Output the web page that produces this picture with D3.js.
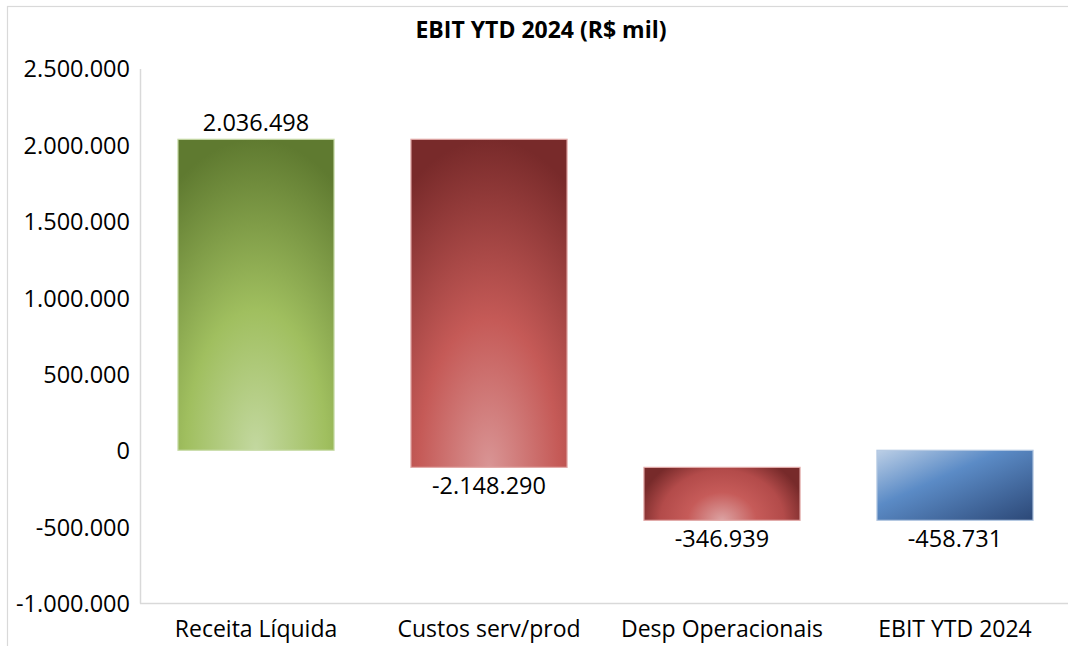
<!DOCTYPE html>
<html><head><meta charset="utf-8">
<script src="https://cdn.jsdelivr.net/npm/d3@7"></script>
<style>
html,body{margin:0;padding:0;background:#fff;}
svg{display:block;}
text{font-family:"Open Sans",sans-serif;fill:#000;}
</style></head>
<body>
<svg id="chart" width="1068" height="646"></svg>
<script>
const categories = ["Receita Líquida", "Custos serv/prod", "Desp Operacionais", "EBIT YTD 2024"];
const values = [2036498, -2148290, -346939, -458731];
const kinds = ["increase", "decrease", "decrease", "total"];
const yTicks = [-1000000, -500000, 0, 500000, 1000000, 1500000, 2000000, 2500000];
const title = "EBIT YTD 2024 (R$ mil)";

const locale = d3.formatLocale({decimal: ",", thousands: ".", grouping: [3], currency: ["R$", ""], minus: "-"});
const fmt = locale.format(",d");

// waterfall table
let running = 0;
const rows = categories.map((c, i) => {
  let start, end;
  if (kinds[i] === "total") { start = 0; end = values[i]; running = values[i]; }
  else { start = running; end = running + values[i]; running = end; }
  return {cat: c, value: values[i], kind: kinds[i], start, end};
});

const svg = d3.select("#chart");
const W = 1068, H = 646;

// outer chart border
svg.append("rect").attr("x", 7.5).attr("y", 6.5).attr("width", W + 20).attr("height", H + 20)
  .attr("fill", "#fff").attr("stroke", "#d9d9d9").attr("stroke-width", 1.2);

const y = d3.scaleLinear().domain([-1000000, 2500000]).range([603, 68.5]);
const x = d3.scaleBand().domain(categories).range([139.5, 1071.5]).paddingInner(0.33).paddingOuter(0.165);

// gradients
const defs = svg.append("defs");
function radial(id, stops, transform) {
  const g = defs.append("radialGradient").attr("id", id)
    .attr("cx", "50%").attr("cy", "100%").attr("fx", "50%").attr("fy", "100%");
  if (transform) g.attr("r", "55%").attr("gradientTransform", transform);
  else g.attr("r", "100%");
  stops.forEach(s => g.append("stop").attr("offset", s[0]).attr("stop-color", s[1]));
}
radial("gGreen", [[0, "#c3d8a0"], [0.45, "#a0bf5f"], [1, "#5f7a30"]]);
radial("gRed", [[0, "#d99595"], [0.45, "#c55a57"], [1, "#782a2a"]]);
radial("gRed2", [[0, "#dca3a3"], [0.4, "#c65b59"], [0.72, "#b34b4a"], [1, "#772a2a"]],
  "translate(0.5,1) scale(1,2.4) translate(-0.5,-1)");
const lin = defs.append("linearGradient").attr("id", "gBlue").attr("x1", "0%").attr("y1", "0%").attr("x2", "100%").attr("y2", "100%");
[[0, "#bccfe6"], [0.4, "#5b8bc6"], [1, "#2c4877"]].forEach(s => lin.append("stop").attr("offset", s[0]).attr("stop-color", s[1]));

const fills = ["url(#gGreen)", "url(#gRed)", "url(#gRed2)", "url(#gBlue)"];
const strokes = ["#c9dcaa", "#e2aaa9", "#e2aaa9", "#b4c8e2"];

// axes
const yAxis = svg.append("g").attr("transform", "translate(140,0)")
  .call(d3.axisLeft(y).tickValues(yTicks).tickFormat(fmt).tickSize(0).tickPadding(10));
yAxis.select(".domain").attr("stroke", "#d9d9d9").attr("stroke-width", 1.5);
yAxis.selectAll("text").attr("font-size", 23.5).attr("font-family", "Open Sans").attr("fill", "#000").attr("dy", "0.36em");

const xAxis = svg.append("g").attr("transform", "translate(0,603)")
  .call(d3.axisBottom(x).tickSize(0).tickPadding(0));
xAxis.select(".domain").attr("stroke", "#d9d9d9").attr("stroke-width", 1.5);
xAxis.selectAll("text").attr("font-size", 23).attr("font-family", "Open Sans").attr("fill", "#000").attr("y", 34).attr("dy", 0);

// bars
svg.append("g").selectAll("rect").data(rows).join("rect")
  .attr("x", d => x(d.cat))
  .attr("width", x.bandwidth())
  .attr("y", d => y(Math.max(d.start, d.end)))
  .attr("height", d => Math.abs(y(d.start) - y(d.end)))
  .attr("fill", (d, i) => fills[i])
  .attr("stroke", (d, i) => strokes[i])
  .attr("stroke-width", 1.2);

// data labels
svg.append("g").selectAll("text").data(rows).join("text")
  .attr("x", d => x(d.cat) + x.bandwidth() / 2)
  .attr("y", d => d.value >= 0 ? y(Math.max(d.start, d.end)) - 8 : y(Math.min(d.start, d.end)) + 27)
  .attr("text-anchor", "middle")
  .attr("font-size", 23.5)
  .text(d => fmt(d.value));

// title
svg.append("text").attr("x", 541).attr("y", 38).attr("text-anchor", "middle")
  .attr("font-size", 23).attr("font-weight", "bold").text(title);
</script>
</body></html>
